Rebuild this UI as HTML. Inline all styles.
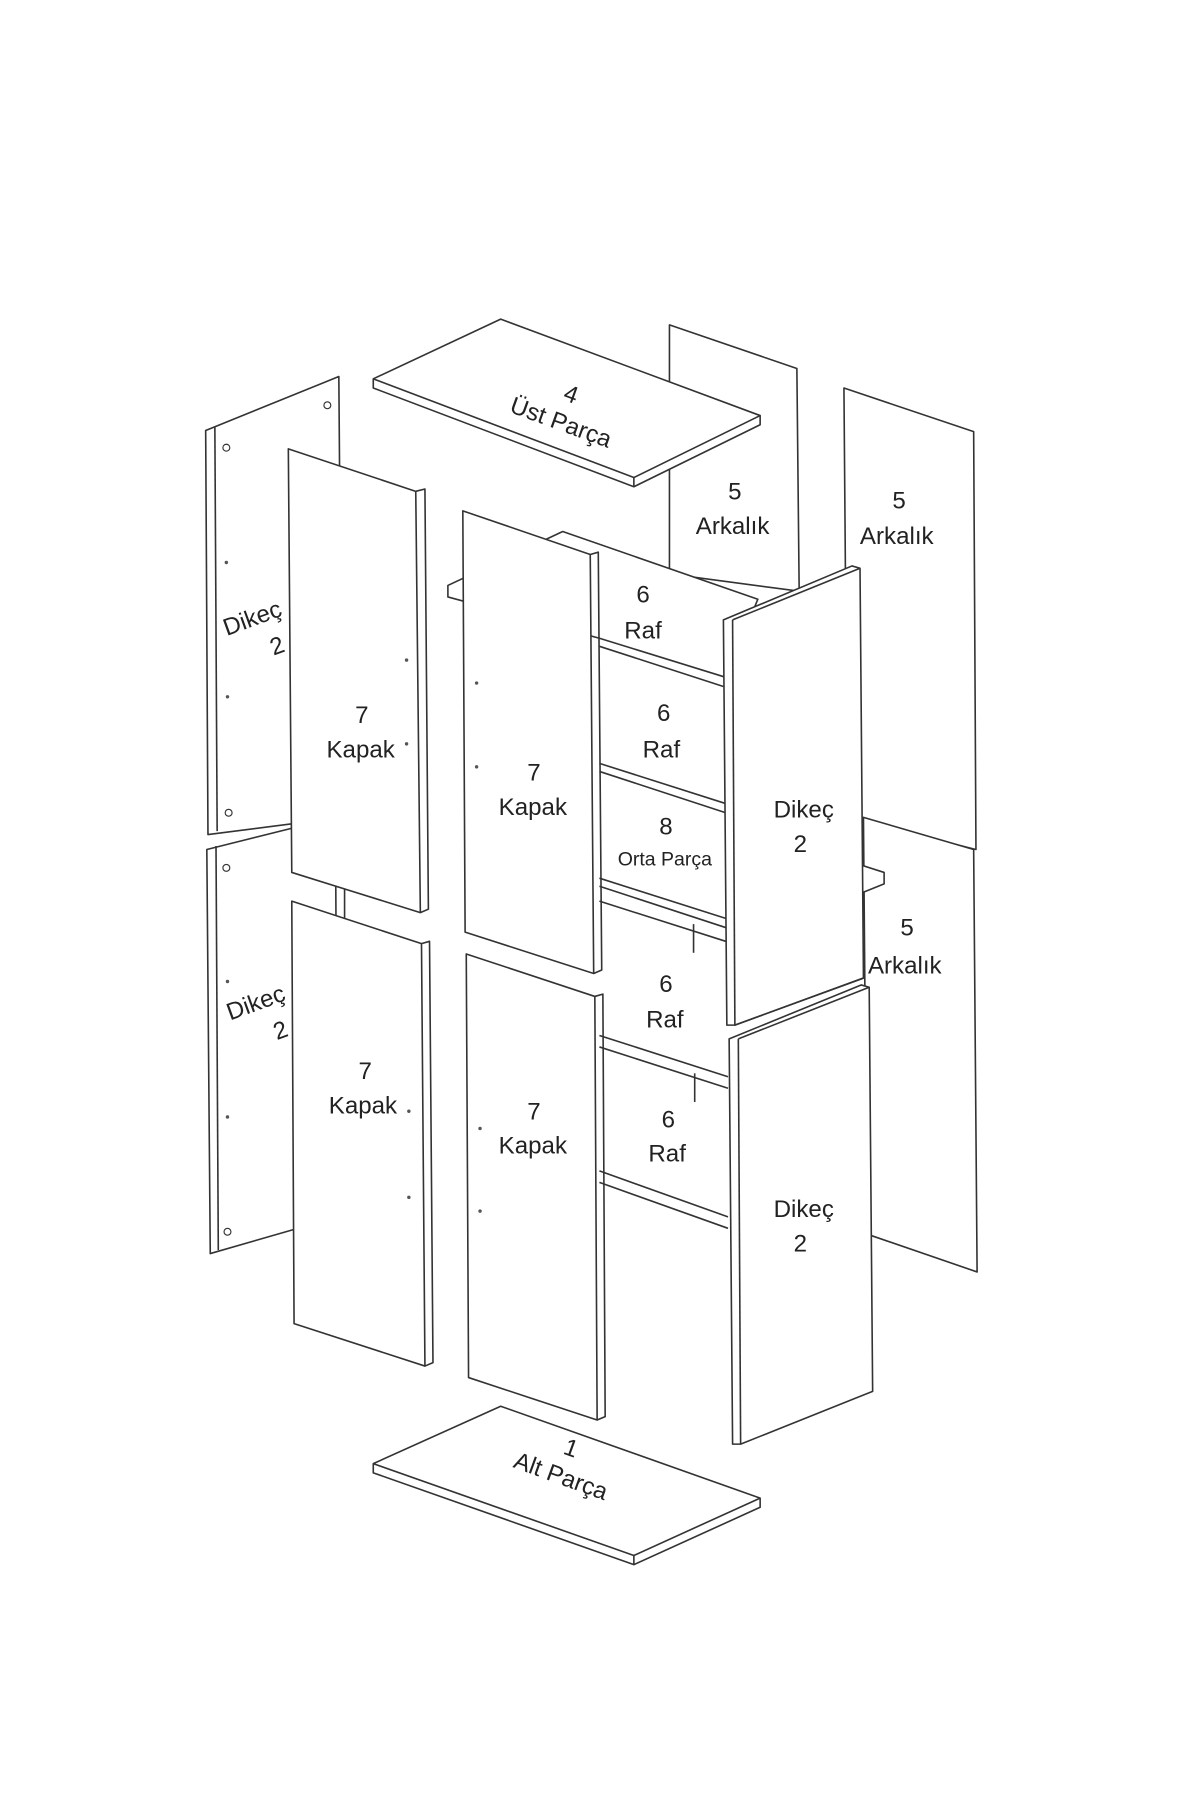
<!DOCTYPE html>
<html><head><meta charset="utf-8"><style>
html,body{margin:0;padding:0;background:#fff;width:1200px;height:1800px;overflow:hidden}
svg{display:block}
text{font-family:"Liberation Sans",sans-serif;font-size:21px;fill:#222;text-anchor:middle}
</style></head><body>
<svg width="1200" height="1800" viewBox="0 0 1045 1568" xmlns="http://www.w3.org/2000/svg">
<g fill="#fff" stroke="#333" stroke-width="1.4" stroke-linejoin="round">
<polygon points="583,283 694,321 696,515 583,500"/>
<polygon points="735,338 848,376 850,740 738,712"/>
<polygon points="752,712 848,740 851,1108 755,1075"/>
<polygon points="390,510 490,463 660,522 632,590 522,556 390,520"/>
<line x1="522" y1="563" x2="630" y2="598"/>
<line x1="522" y1="665" x2="632" y2="700"/>
<line x1="522" y1="672" x2="632" y2="708"/>
<line x1="522" y1="765" x2="632" y2="800"/>
<line x1="522" y1="772" x2="632" y2="808"/>
<line x1="522" y1="785" x2="632" y2="820"/>
<polygon points="745,752 770,760 770,770 745,780"/>
<line x1="522" y1="902" x2="634" y2="938"/>
<line x1="522" y1="912" x2="634" y2="948"/>
<line x1="604" y1="805" x2="604" y2="830"/>
<line x1="605" y1="935" x2="605" y2="960"/>
<line x1="522" y1="1020" x2="634" y2="1060"/>
<line x1="522" y1="1030" x2="634" y2="1070"/>
<line x1="300" y1="770" x2="300" y2="800"/>
<polygon points="325,330 436,278 662,362 662,370 552,424 325,338"/>
<polyline fill="none" points="325,330 552,416 662,362"/>
<line x1="552" y1="416" x2="552" y2="424"/>
<polygon points="179,375 295,328 298,712 181,727"/>
<line x1="187" y1="372" x2="189" y2="724"/>
<polygon points="180,740 292,712 294,1060 183,1092"/>
<line x1="188" y1="737" x2="190" y2="1089"/>
<polygon points="251,391 362,428 366,795 254,760"/><polyline fill="none" points="362,428 370,426 373,792 366,795"/>
<polygon points="403,445 514,483 517,848 405,812"/><polyline fill="none" points="514,483 521,481 524,845 517,848"/>
<polygon points="254,785 367,822 370,1190 256,1153"/><polyline fill="none" points="367,822 374,820 377,1187 370,1190"/>
<polygon points="406,831 518,868 520,1237 408,1200"/><polyline fill="none" points="518,868 525,866 527,1234 520,1237"/>
<polygon points="630,540 742,493 749,495 752,852 640,893 633,893"/><line x1="638" y1="540" x2="640" y2="893"/><line x1="638" y1="540" x2="749" y2="495"/>
<polygon points="635,905 750,858 757,860 760,1212 645,1258 638,1258"/><line x1="643" y1="905" x2="645" y2="1258"/><line x1="643" y1="905" x2="757" y2="860"/>
<line x1="640" y1="893" x2="752" y2="852"/>
<polygon points="325,1275 436,1225 662,1305 662,1313 552,1363 325,1283"/>
<polyline fill="none" points="325,1275 552,1355 662,1305"/>
<line x1="552" y1="1355" x2="552" y2="1363"/>
</g>
<g fill="#fff" stroke="#333" stroke-width="1">
<circle cx="197" cy="390" r="3"/><circle cx="285" cy="353" r="3"/><circle cx="199" cy="708" r="3"/><circle cx="197" cy="756" r="3"/><circle cx="198" cy="1073" r="3"/>
</g>
<g fill="#555"><circle cx="197" cy="490" r="1.5"/><circle cx="198" cy="607" r="1.5"/><circle cx="354" cy="575" r="1.5"/><circle cx="354" cy="648" r="1.5"/><circle cx="415" cy="595" r="1.5"/><circle cx="415" cy="668" r="1.5"/><circle cx="198" cy="855" r="1.5"/><circle cx="198" cy="973" r="1.5"/><circle cx="356" cy="968" r="1.5"/><circle cx="356" cy="1043" r="1.5"/><circle cx="418" cy="983" r="1.5"/><circle cx="418" cy="1055" r="1.5"/></g>
<text transform="translate(495,350) rotate(20)"><tspan x="0" y="0">4</tspan><tspan x="0" y="26">Üst Parça</tspan></text>
<text x="640" y="435">5</text><text x="638" y="465">Arkalık</text>
<text x="783" y="443">5</text><text x="781" y="474">Arkalık</text>
<text x="790" y="815">5</text><text x="788" y="848">Arkalık</text>
<text transform="translate(222,545) rotate(-20)"><tspan x="0" y="0">Dikeç</tspan><tspan x="12" y="30">2</tspan></text>
<text transform="translate(225,880) rotate(-20)"><tspan x="0" y="0">Dikeç</tspan><tspan x="12" y="30">2</tspan></text>
<text x="315" y="630">7</text><text x="314" y="660">Kapak</text>
<text x="465" y="680">7</text><text x="464" y="710">Kapak</text>
<text x="318" y="940">7</text><text x="316" y="970">Kapak</text>
<text x="465" y="975">7</text><text x="464" y="1005">Kapak</text>
<text x="560" y="525">6</text><text x="560" y="556">Raf</text>
<text x="578" y="628">6</text><text x="576" y="660">Raf</text>
<text x="580" y="727">8</text><text x="579" y="754" style="font-size:17px">Orta Parça</text>
<text x="580" y="864">6</text><text x="579" y="895">Raf</text>
<text x="582" y="982">6</text><text x="581" y="1012">Raf</text>
<text x="700" y="712">Dikeç</text><text x="697" y="742">2</text>
<text x="700" y="1060">Dikeç</text><text x="697" y="1090">2</text>
<text transform="translate(495,1268) rotate(20)"><tspan x="0" y="0">1</tspan><tspan x="0" y="26">Alt Parça</tspan></text>
</svg>
</body></html>
